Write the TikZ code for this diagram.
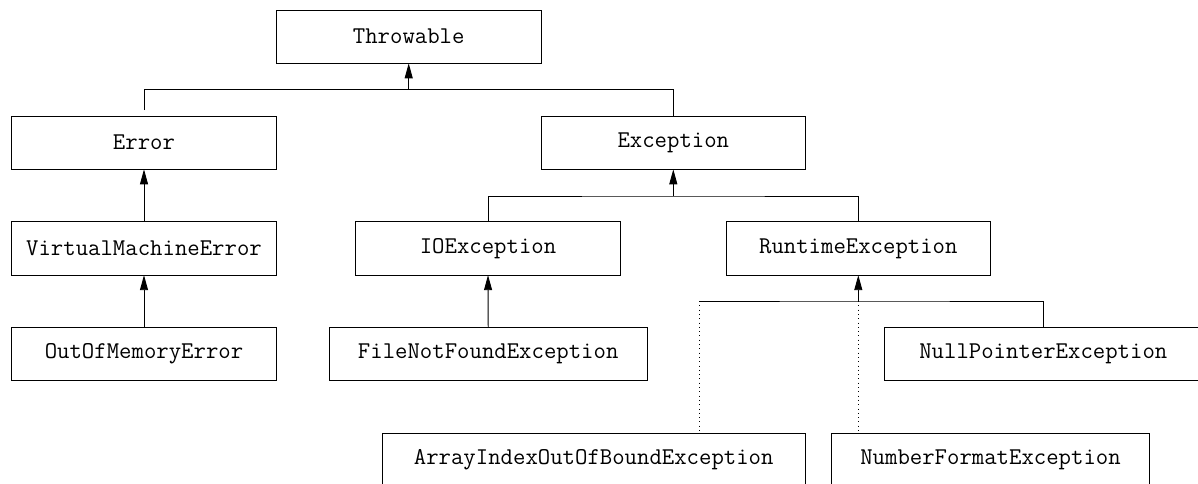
\documentclass[tikz,border=0pt]{standalone}
\usetikzlibrary{arrows.meta}
\begin{document}
\begin{tikzpicture}[x=1pt,y=-1pt,
  box/.style={draw=black, line width=0.9pt, fill=white, inner sep=0pt, outer sep=0pt,
    minimum height=53.3pt, font=\fontsize{24.08}{28}\ttfamily},
  link/.style={draw=black, line width=0.9pt},
  arr/.style={link, -{Triangle[width=8pt,length=15pt]}},
  dotlink/.style={draw=black, line width=0.9pt, dash pattern=on 0.9pt off 3.4pt}]
\useasboundingbox[fill=white] (0,0) rectangle (1198,483);
% nodes
\node[box, minimum width=264.7pt] (thr) at (408.7,36.7) {Throwable};
\node[box, minimum width=264.6pt] (err) at (144,142.7) {Error};
\node[box, minimum width=264.7pt] (exc) at (673.3,142.7) {Exception};
\node[box, minimum width=264.6pt] (vme) at (144,248.5) {VirtualMachineError};
\node[box, minimum width=264.6pt] (io) at (488,248.5) {IOException};
\node[box, minimum width=264.7pt] (rt) at (858.3,248.5) {RuntimeException};
\node[box, minimum width=264.6pt] (oom) at (144,354.2) {OutOfMemoryError};
\node[box, minimum width=317.7pt] (fnf) at (488.2,354.2) {FileNotFoundException};
\node[box, minimum width=317.7pt] (npe) at (1043.3,354.2) {NullPointerException};
\node[box, minimum width=422.7pt] (aio) at (593.7,459.9) {ArrayIndexOutOfBoundException};
\node[box, minimum width=317.6pt] (nfe) at (990.5,459.9) {NumberFormatException};
% junctions
\coordinate (j1) at (408.7,89.3);
\coordinate (j2) at (673.3,196);
\coordinate (j3) at (858.3,301);
\coordinate (a1) at (699.3,301);
% connectors
\draw[link] ([yshift=6pt]err.north) |- (j1) -| (exc.north);
\draw[arr] (j1) -- (thr.south);
\draw[arr] (vme.north) -- (err.south);
\draw[arr] (oom.north) -- (vme.south);
\draw[link] (io.north) |- (j2) -| (rt.north);
\draw[arr] (j2) -- (exc.south);
\draw[arr] (fnf.north) -- (io.south);
\draw[link] (a1) -- (j3) -| (npe.north);
\draw[arr] (j3) -- (rt.south);
\draw[dotlink] (a1) -- (a1 |- aio.north);
\draw[dotlink] (j3) -- (j3 |- nfe.north);
\end{tikzpicture}
\end{document}
